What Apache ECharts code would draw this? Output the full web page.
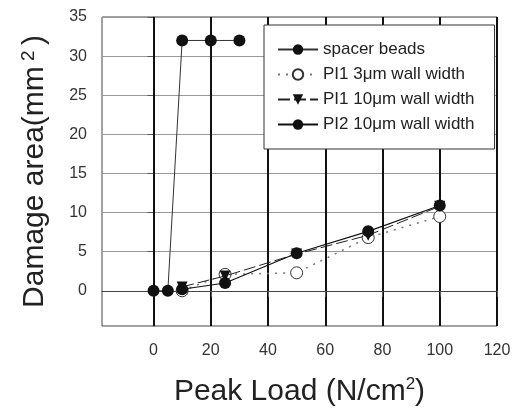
<!DOCTYPE html>
<html>
<head>
<meta charset="utf-8">
<script src="https://cdn.jsdelivr.net/npm/echarts@6/dist/echarts.min.js"></script>
<style>
  html, body { margin: 0; padding: 0; background: #fff; }
  #chart { width: 520px; height: 412px; }
</style>
</head>
<body>
<div id="chart"></div>
<script>
// values
const spacerLoad = [0, 5, 10, 20, 30]
const spacerArea = [0, 0, 32, 32, 32]

const peakLoad = [10, 25, 50, 75, 100]
const pi1Thin = [0, 2.1, 2.3, 6.8, 9.5]
const pi1Thick = [0.5, 1.9, 4.7, 7.1, 10.8]
const pi2Thick = [0.2, 1.0, 4.8, 7.6, 10.9]

const xTicks = [0, 20, 40, 60, 80, 100, 120]
const yTicks = [0, 5, 10, 15, 20, 25, 30, 35]

const pairs = (xs, ys) => xs.map((x, i) => [x, ys[i]])

const chart = echarts.init(document.getElementById('chart'))

const option = {
  backgroundColor: '#fff',
  animation: false,
  grid: {
    left: 102,
    top: 17,
    right: 23,
    bottom: 84,
    show: true,
    borderColor: '#444',
    borderWidth: 1
  },
  legend: {
    orient: 'vertical',
    left: 264,
    top: 25,
    padding: [16, 20, 16, 13],
    itemGap: 8,
    itemWidth: 40,
    itemHeight: 13,
    backgroundColor: '#fff',
    borderColor: '#333',
    borderWidth: 1,
    textStyle: {
      fontFamily: 'Liberation Sans, Arial, sans-serif',
      fontSize: 17,
      color: '#222'
    },
    data: ['spacer beads', 'PI1 3μm wall width', 'PI1 10μm wall width', 'PI2 10μm wall width']
  },
  xAxis: {
    type: 'value',
    min: -18,
    max: 120,
    z: 2,
    name: 'Peak Load (N/cm{sup|2})',
    nameLocation: 'middle',
    nameGap: 50,
    nameTextStyle: {
      fontFamily: 'Liberation Sans, Arial, sans-serif',
      fontSize: 30,
      color: '#222',
      rich: {
        sup: { fontSize: 17, verticalAlign: 'top', padding: [0, 0, 15, 0] }
      }
    },
    axisLine: { show: true, lineStyle: { color: '#444' } },
    axisTick: {
      show: true,
      length: 6,
      customValues: xTicks,
      lineStyle: { color: '#555' }
    },
    axisLabel: {
      customValues: xTicks,
      margin: 17,
      fontFamily: 'Liberation Sans, Arial, sans-serif',
      fontSize: 16,
      color: '#333'
    },
    splitLine: {
      show: true,
      customValues: xTicks.slice(0, 6),
      lineStyle: { color: '#111', width: 2 }
    }
  },
  yAxis: {
    type: 'value',
    min: -4.5,
    max: 35,
    name: 'Damage area(mm{sup| 2 })',
    nameLocation: 'middle',
    nameGap: 51,
    nameTextStyle: {
      fontFamily: 'Liberation Sans, Arial, sans-serif',
      fontSize: 30,
      color: '#222',
      rich: {
        sup: { fontSize: 19, verticalAlign: 'top', padding: [0, 0, 13, 0] }
      }
    },
    axisLine: { show: true, lineStyle: { color: '#444' } },
    axisTick: {
      show: true,
      length: 6,
      customValues: yTicks,
      lineStyle: { color: '#555' }
    },
    axisLabel: {
      customValues: yTicks,
      margin: 15,
      fontFamily: 'Liberation Sans, Arial, sans-serif',
      fontSize: 16,
      color: '#333'
    },
    splitLine: {
      show: true,
      customValues: yTicks,
      lineStyle: { color: '#999', width: 1 }
    }
  },
  series: [
    {
      name: 'spacer beads',
      type: 'line',
      data: pairs(spacerLoad, spacerArea),
      symbol: 'circle',
      symbolSize: 12,
      itemStyle: { color: '#111' },
      lineStyle: { color: '#333', width: 1 },
      z: 3
    },
    {
      name: 'PI1 3μm wall width',
      type: 'line',
      data: pairs(peakLoad, pi1Thin),
      symbol: 'circle',
      symbolSize: 12,
      itemStyle: { color: '#fff', borderColor: '#333', borderWidth: 1 },
      lineStyle: { color: '#777', width: 1.5, type: [2, 6] },
      z: 4
    },
    {
      name: 'PI1 10μm wall width',
      type: 'line',
      data: pairs(peakLoad, pi1Thick),
      symbol: 'triangle',
      symbolRotate: 180,
      symbolSize: 11,
      itemStyle: { color: '#111' },
      lineStyle: { color: '#222', width: 1, type: [12, 4] },
      z: 5
    },
    {
      name: 'PI2 10μm wall width',
      type: 'line',
      data: pairs(peakLoad, pi2Thick),
      symbol: 'circle',
      symbolSize: 12,
      itemStyle: { color: '#111' },
      lineStyle: { color: '#111', width: 1.2 },
      z: 6
    }
  ]
}

chart.setOption(option)
</script>
</body>
</html>
